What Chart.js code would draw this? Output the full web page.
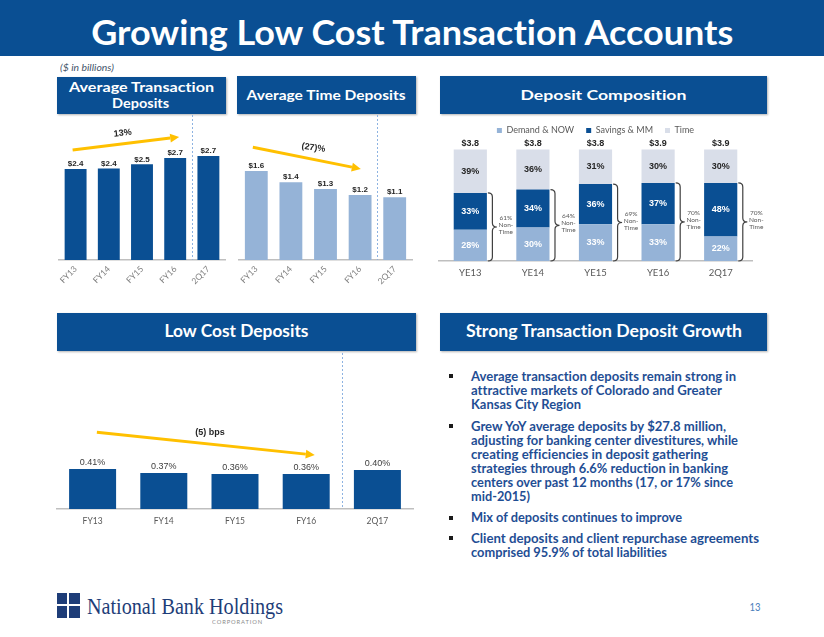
<!DOCTYPE html>
<html><head><meta charset="utf-8">
<script src="https://cdn.jsdelivr.net/npm/chart.js@4"></script>
<style>
html,body{margin:0;padding:0;width:824px;height:637px;overflow:hidden;background:#fff;font-family:Lato,"Open Sans",sans-serif;font-variant-ligatures:none;font-feature-settings:"liga" 0,"clig" 0;}
.box{position:absolute;background:#0A4F93;box-shadow:1px 1px 2px rgba(0,0,0,.3);}
canvas{position:absolute;}
</style></head>
<body>
<div style="position:absolute;left:0;top:0;width:824px;height:56px;background:#0A4F93;"></div>
<div class="box" style="left:57px;top:77px;width:169px;height:37px;"></div>
<div class="box" style="left:237px;top:76px;width:179px;height:38px;"></div>
<div class="box" style="left:440px;top:76px;width:327px;height:38px;"></div>
<div class="box" style="left:57px;top:313px;width:359px;height:38px;"></div>
<div class="box" style="left:440px;top:313px;width:327px;height:38px;"></div>
<!-- logo icon -->
<div style="position:absolute;left:57px;top:593px;width:23px;height:25px;background:#1E3D78;"></div>
<div style="position:absolute;left:67px;top:593px;width:2px;height:25px;background:#fff;"></div>
<div style="position:absolute;left:57px;top:604px;width:23px;height:2px;background:#fff;"></div>

<canvas id="c1" width="175" height="175" style="left:55px;top:115px;"></canvas>
<canvas id="c2" width="182" height="175" style="left:234px;top:115px;"></canvas>
<canvas id="c3" width="332" height="176" style="left:435px;top:114px;"></canvas>
<canvas id="c4" width="366" height="181" style="left:52px;top:350px;"></canvas>

<script>
// ---------------- DATA ----------------
const fyLabels = ["FY13", "FY14", "FY15", "FY16", "2Q17"];
const avgTransactionDeposits = [2.40, 2.41, 2.52, 2.69, 2.74];   // $ billions
const avgTimeDeposits = [1.60, 1.40, 1.28, 1.17, 1.13];          // $ billions
const compLabels = ["YE13", "YE14", "YE15", "YE16", "2Q17"];
const demandNowPct = [28, 30, 33, 33, 22];
const savingsMmPct = [33, 34, 36, 37, 48];
const timePct = [39, 36, 31, 30, 30];
const totalDeposits = [3.8, 3.8, 3.8, 3.9, 3.9];                 // $ billions
const lowCostRates = [0.41, 0.37, 0.36, 0.36, 0.40];              // %
const seriesNames = ["Demand & NOW", "Savings & MM", "Time"];

// ---------------- STYLE ----------------
const NAVY = '#0A4F93', LIGHT = '#95B3D7', PALE = '#D9DEE9', GOLD = '#FFC000';
Chart.defaults.font.family = 'Lato';
Chart.defaults.animation = false;
Chart.defaults.responsive = false;

// ---------------- TEXT HELPERS ----------------
const fitItems = [];
function txt(s, o) {
  const d = document.createElement('div');
  const sz = o.size;
  d.style.cssText = `position:absolute;top:${o.y - sz * 0.6}px;line-height:${sz * 1.2}px;font-size:${sz}px;font-weight:${o.weight || 'normal'};font-style:${o.italic ? 'italic' : 'normal'};color:${o.color || '#000'};font-family:${o.family || 'Lato'};white-space:nowrap;`;
  if (o.align === 'left') { d.style.left = o.x + 'px'; }
  else { d.style.left = (o.x - 500) + 'px'; d.style.width = '1000px'; d.style.textAlign = 'center'; }
  const sp = document.createElement('span');
  sp.textContent = s; sp.style.display = 'inline-block';
  sp.style.transformOrigin = o.align === 'left' ? 'left center' : 'center center';
  if (o.ls) sp.style.letterSpacing = o.ls + 'px';
  d.appendChild(sp); document.body.appendChild(d);
  if (o.w) fitItems.push([sp, o.w]);
}
function applyFit() {
  for (const [sp, w] of fitItems) {
    sp.style.transform = 'none';
    const r = sp.getBoundingClientRect().width;
    if (r > 0) sp.style.transform = `scaleX(${w / r})`;
  }
}

txt('Growing Low Cost Transaction Accounts', {x: 412.5, y: 30.5, size: 35, weight: 'bold', color: '#fff', w: 642});
txt('($ in billions)', {x: 60, y: 67, size: 10, italic: true, color: '#44546A', align: 'left', w: 54});
txt('Average Transaction', {x: 141.5, y: 87, size: 13.5, weight: 'bold', color: '#fff', w: 145});
txt('Deposits', {x: 140.5, y: 103, size: 13.5, weight: 'bold', color: '#fff', w: 57});
txt('Average Time Deposits', {x: 326.5, y: 95, size: 13.5, weight: 'bold', color: '#fff', w: 159});
txt('Deposit Composition', {x: 603.5, y: 95, size: 13.5, weight: 'bold', color: '#fff', w: 166});
txt('Low Cost Deposits', {x: 236, y: 332, size: 16.5, weight: 'bold', color: '#fff', w: 144});
txt('Strong Transaction Deposit Growth', {x: 603.5, y: 332, size: 16.5, weight: 'bold', color: '#fff', w: 276});

const bulletLines = [
  ['Average transaction deposits remain strong in', 376, 265, true],
  ['attractive markets of Colorado and Greater', 390.7, 251],
  ['Kansas City Region', 404.3, 110],
  ['Grew YoY average deposits by $27.8 million,', 426, 255, true],
  ['adjusting for banking center divestitures, while', 440, 267],
  ['creating efficiencies in deposit gathering', 454.3, 237],
  ['strategies through 6.6% reduction in banking', 468.3, 257],
  ['centers over past 12 months (17, or 17% since', 482.7, 262],
  ['mid-2015)', 496.7, 59],
  ['Mix of deposits continues to improve', 517.7, 211, true],
  ['Client deposits and client repurchase agreements', 538.3, 288, true],
  ['comprised 95.9% of total liabilities', 552.3, 196]
];
for (const [s, y, w, b] of bulletLines) {
  txt(s, {x: 471, y: y, size: 12.5, weight: 'bold', color: '#1F4E94', align: 'left', w: w});
  if (b) {
    const q = document.createElement('div');
    q.style.cssText = `position:absolute;left:449px;top:${y - 2}px;width:4px;height:4px;background:#1a1a1a;`;
    document.body.appendChild(q);
  }
}
txt('National Bank Holdings', {x: 87, y: 606, size: 24, family: '"Liberation Serif"', color: '#1E3D78', align: 'left', w: 196});
txt('CORPORATION', {x: 212, y: 622, size: 6.5, color: '#8A8A8A', align: 'left', w: 51, ls: 1});
txt('13', {x: 754.5, y: 607, size: 12, color: '#4A7EBB', w: 11});
applyFit();
if (document.fonts && document.fonts.ready) document.fonts.ready.then(applyFit);

// ---------------- DRAW HELPERS ----------------
function arrow(ctx, x1, y1, x2, y2) {
  const a = Math.atan2(y2 - y1, x2 - x1), L = 9, H = 4.5;
  const bx = x2 - L * Math.cos(a), by = y2 - L * Math.sin(a);
  ctx.save();
  ctx.strokeStyle = GOLD; ctx.fillStyle = GOLD; ctx.lineWidth = 3;
  ctx.beginPath(); ctx.moveTo(x1, y1); ctx.lineTo(bx, by); ctx.stroke();
  ctx.beginPath(); ctx.moveTo(x2, y2);
  ctx.lineTo(bx + H * Math.sin(a), by - H * Math.cos(a));
  ctx.lineTo(bx - H * Math.sin(a), by + H * Math.cos(a));
  ctx.closePath(); ctx.fill();
  ctx.restore();
}
function simpleDeco(cfg) {
  return {
    id: 'deco',
    afterDraw(chart) {
      const ctx = chart.ctx, xs = chart.scales.x, ys = chart.scales.y, area = chart.chartArea;
      ctx.save();
      // divider
      const dx = Math.round(xs.getPixelForValue(3.5)) + 0.5;
      ctx.strokeStyle = '#8DB3E2'; ctx.lineWidth = 1; ctx.setLineDash([2, 2]);
      ctx.beginPath(); ctx.moveTo(dx, area.top + cfg.divTop); ctx.lineTo(dx, area.bottom); ctx.stroke();
      ctx.setLineDash([]);
      // value labels
      const meta = chart.getDatasetMeta(0);
      ctx.font = cfg.labelFont; ctx.fillStyle = cfg.labelColor;
      ctx.textAlign = 'center'; ctx.textBaseline = 'middle';
      meta.data.forEach((el, i) => {
        ctx.fillText(cfg.fmt(chart.data.datasets[0].data[i]), el.x, el.y - cfg.labelOffset);
      });
      // trend arrow
      const A = cfg.arrow;
      arrow(ctx, xs.getPixelForValue(A.from[0]), ys.getPixelForValue(A.from[1]),
                 xs.getPixelForValue(A.to[0]), ys.getPixelForValue(A.to[1]));
      ctx.translate(xs.getPixelForValue(A.label[0]), ys.getPixelForValue(A.label[1]));
      ctx.rotate(A.rot * Math.PI / 180);
      ctx.font = 'bold 9px "Liberation Sans"'; ctx.fillStyle = '#262626';
      ctx.fillText(A.text, 0, 0);
      ctx.restore();
    }
  };
}
function simpleBar(id, labels, data, color, ymax, pad, xHeight, tickOpts, deco) {
  return new Chart(document.getElementById(id), {
    type: 'bar',
    data: {labels: labels, datasets: [{data: data, backgroundColor: color, categoryPercentage: 1, barPercentage: 0.66}]},
    options: {
      devicePixelRatio: 1,
      layout: {padding: pad},
      plugins: {legend: {display: false}, tooltip: {enabled: false}},
      scales: {
        x: {grid: {display: false, drawTicks: false}, border: {display: true, color: '#BFBFBF', width: 1.5},
            ticks: tickOpts, afterFit: s => { s.height = xHeight; }},
        y: {display: false, min: 0, max: ymax}
      }
    },
    plugins: [deco]
  });
}

// Chart 1: Average transaction deposits
simpleBar('c1', fyLabels, avgTransactionDeposits, NAVY, 3.82, {left: 4, right: 5}, 30,
  {color: '#7F7F7F', font: {size: 8.5}, minRotation: 45, maxRotation: 45, padding: 4},
  simpleDeco({fmt: v => '$' + v.toFixed(1), labelFont: 'bold 8px "Liberation Sans"', labelColor: '#262626', labelOffset: 5, divTop: 0,
    arrow: {from: [-0.09, 2.90], to: [3.12, 3.24], label: [1.42, 3.34], rot: -6, text: '13%'}}));

// Chart 2: Average time deposits
simpleBar('c2', fyLabels, avgTimeDeposits, LIGHT, 2.61, {left: 5, right: 4}, 30,
  {color: '#7F7F7F', font: {size: 8.5}, minRotation: 45, maxRotation: 45, padding: 4},
  simpleDeco({fmt: v => '$' + v.toFixed(1), labelFont: 'bold 8px "Liberation Sans"', labelColor: '#262626', labelOffset: 5, divTop: 0,
    arrow: {from: [-0.10, 2.03], to: [3.02, 1.64], label: [1.65, 2.02], rot: 8, text: '(27)%'}}));

// Chart 4: Low cost deposits
simpleBar('c4', fyLabels, lowCostRates, NAVY, 1.63, {left: 5, right: 5}, 22,
  {color: '#595959', font: {size: 8.5}, maxRotation: 0, padding: 7},
  simpleDeco({fmt: v => v.toFixed(2) + '%', labelFont: '9px "Liberation Sans"', labelColor: '#404040', labelOffset: 6, divTop: 3,
    arrow: {from: [0.06, 0.786], to: [3.12, 0.553], label: [1.65, 0.786], rot: 0, text: '(5) bps'}}));

// Chart 3: Deposit composition (stacked)
const compDeco = {
  id: 'compDeco',
  afterDraw(chart) {
    const ctx = chart.ctx;
    const m0 = chart.getDatasetMeta(0), m1 = chart.getDatasetMeta(1), m2 = chart.getDatasetMeta(2);
    ctx.save();
    ctx.textAlign = 'center'; ctx.textBaseline = 'middle';
    [m0, m1, m2].forEach((m, di) => {
      ctx.font = 'bold 9px "Liberation Sans"';
      ctx.fillStyle = di < 2 ? '#FFFFFF' : '#262626';
      m.data.forEach((el, i) => {
        ctx.fillText(chart.data.datasets[di].data[i] + '%', el.x, (el.y + el.base) / 2);
      });
    });
    // totals
    m2.data.forEach((el, i) => {
      ctx.fillStyle = '#262626'; ctx.font = 'bold 9px "Liberation Sans"';
      ctx.fillText('$' + totalDeposits[i].toFixed(1), el.x, el.y - 6);
    });
    // braces
    m1.data.forEach((el, i) => {
      const x = el.x + el.width / 2 + 1, yT = el.y, yB = m0.data[i].base, w = 9, r = 4;
      const ym = (yT + yB) / 2, xm = x + w / 2;
      ctx.strokeStyle = '#404040'; ctx.lineWidth = 1.2;
      ctx.beginPath();
      ctx.moveTo(x, yT);
      ctx.quadraticCurveTo(xm, yT, xm, yT + r);
      ctx.lineTo(xm, ym - r);
      ctx.quadraticCurveTo(xm, ym, x + w, ym);
      ctx.quadraticCurveTo(xm, ym, xm, ym + r);
      ctx.lineTo(xm, yB - r);
      ctx.quadraticCurveTo(xm, yB, x, yB);
      ctx.stroke();
      const nonTime = demandNowPct[i] + savingsMmPct[i];
      ctx.fillStyle = '#595959'; ctx.font = '6.5px Lato';
      const tx = x + w + 9;
      ctx.fillText(nonTime + '%', tx, ym - 9);
      ctx.fillText('Non-', tx, ym - 2);
      ctx.fillText('Time', tx, ym + 5);
    });
    ctx.restore();
  }
};
new Chart(document.getElementById('c3'), {
  type: 'bar',
  data: {
    labels: compLabels,
    datasets: [
      {label: seriesNames[0], data: demandNowPct, backgroundColor: LIGHT},
      {label: seriesNames[1], data: savingsMmPct, backgroundColor: NAVY},
      {label: seriesNames[2], data: timePct, backgroundColor: PALE}
    ].map(d => Object.assign(d, {categoryPercentage: 1, barPercentage: 0.53}))
  },
  options: {
    devicePixelRatio: 1,
    layout: {padding: {left: 4, right: 15}},
    plugins: {
      tooltip: {enabled: false},
      legend: {position: 'top', labels: {boxWidth: 5, boxHeight: 5, padding: 12, color: '#595959', font: {size: 9}}}
    },
    scales: {
      x: {stacked: true, grid: {display: false, drawTicks: false}, border: {display: true, color: '#BFBFBF', width: 1.5},
          ticks: {color: '#595959', font: {size: 9.5}, maxRotation: 0, padding: 6}, afterFit: s => { s.height = 29; }},
      y: {stacked: true, display: false, min: 0, max: 104}
    }
  },
  plugins: [compDeco]
});
</script>
</body></html>
